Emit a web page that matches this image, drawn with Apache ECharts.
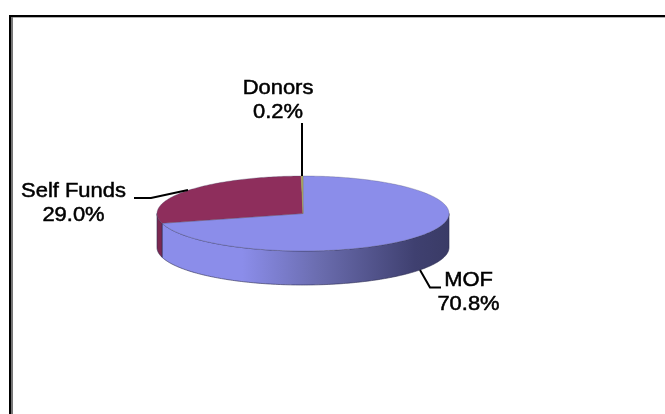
<!DOCTYPE html>
<html>
<head>
<meta charset="utf-8">
<style>html,body{margin:0;padding:0;background:#fff}#chart{width:665px;height:414px}</style>
<script src="https://cdn.jsdelivr.net/npm/echarts@6/dist/echarts.min.js"></script>
</head>
<body>
<div id="chart"></div>
<script>
var categories = ["MOF", "Self Funds", "Donors"];
var shares = [70.8, 29.0, 0.2];
var shareLabels = ["70.8%", "29.0%", "0.2%"];

var topColors = ["#8b8dea", "#8e2e5c", "#a3a35c"];
var sideColors = ["#8b8dea", "#7c2850", "#8a8a4c"];

// ellipse of the pie top, the wall height
var pie = { cx: 303, cy: 213.5, rx: 146, ry: 37.5, depth: 34 };

// label centre and leader line of each slice
var labelPos = [[468.5, 292], [73.5, 203], [278, 100]];
var leaders = [
    [[420, 270], [430, 287.5], [441, 287.5]],
    [[134, 198], [151, 198], [188, 190]],
    [[302, 123], [302, 176]]
];

var total = shares.reduce(function (a, b) { return a + b; }, 0);
var starts = [];
shares.reduce(function (acc, v, i) { starts[i] = acc; return acc + v; }, 0);

function pt(a, dy) { // a: degrees clockwise from 12 o'clock
    var r = a * Math.PI / 180;
    return [pie.cx + pie.rx * Math.sin(r), pie.cy - pie.ry * Math.cos(r) + (dy || 0)];
}

function arc(a0, a1, dy) {
    var pts = [];
    var n = Math.max(2, Math.ceil(Math.abs(a1 - a0)));
    for (var i = 0; i <= n; i++) {
        pts.push(pt(a0 + (a1 - a0) * i / n, dy));
    }
    return pts;
}

function labelText(text, x, y) {
    return {
        type: "text",
        z2: 9,
        x: x,
        y: y,
        scaleX: 1.07,
        style: {
            text: text,
            font: "20.5px 'Liberation Sans', Arial, sans-serif",
            fill: "#000",
            stroke: "#000",
            lineWidth: 0.5,
            align: "center",
            verticalAlign: "middle"
        }
    };
}

function renderSlice(params, api) {
    var i = params.dataIndex;
    var a0 = starts[i] / total * 360;
    var a1 = a0 + api.value(0) / total * 360;
    var children = [];

    // wall, only the part on the front half (90..270) shows
    var w0 = Math.max(a0, 90), w1 = Math.min(a1, 270);
    if (w1 > w0) {
        var upper = arc(w0, w1, 0);
        var lower = arc(w1, w0, pie.depth);
        var fill = sideColors[i];
        if (i === 0) {
            fill = new echarts.graphic.LinearGradient(1, 0, 0, 0, [
                { offset: 0, color: "#3a3b66" },
                { offset: 0.12, color: "#3f4070" },
                { offset: 0.45, color: "#6a6cae" },
                { offset: 0.72, color: "#8b8dea" },
                { offset: 1, color: "#8b8dea" }
            ]);
        }
        children.push({
            type: "polygon",
            shape: { points: upper.concat(lower) },
            style: { fill: fill, stroke: "#2c2c50", lineWidth: 0.6 }
        });
    }

    // top face
    children.push({
        type: "polygon",
        z2: 5,
        shape: { points: [[pie.cx, pie.cy]].concat(arc(a0, a1, 0)) },
        style: { fill: topColors[i], stroke: i === 2 ? topColors[i] : "#4a4a6a", lineWidth: i === 2 ? 0.5 : 0.3 }
    });

    // leader
    children.push({
        type: "polyline",
        z2: 8,
        shape: { points: leaders[i] },
        style: { fill: null, stroke: "#000", lineWidth: 2 }
    });

    // label
    children.push(labelText(categories[i], labelPos[i][0], labelPos[i][1] - 12));
    children.push(labelText(shareLabels[i], labelPos[i][0], labelPos[i][1] + 12));

    return { type: "group", children: children };
}

var myChart = echarts.init(document.getElementById("chart"), null, { renderer: "canvas" });
myChart.setOption({
    animation: false,
    backgroundColor: "#fff",
    graphic: [
        { type: "rect", shape: { x: 9, y: 15, width: 656, height: 2 }, style: { fill: "#000" } },
        { type: "rect", shape: { x: 11, y: 17, width: 654, height: 1 }, style: { fill: "#b0b0b0" } },
        { type: "rect", shape: { x: 9, y: 15, width: 2, height: 399 }, style: { fill: "#000" } },
        { type: "rect", shape: { x: 11, y: 17, width: 2, height: 397 }, style: { fill: "#777" } }
    ],
    series: [{
        type: "custom",
        coordinateSystem: "none",
        data: shares.map(function (v, i) { return { name: categories[i], value: [v] }; }),
        renderItem: renderSlice
    }]
});
</script>
</body>
</html>
